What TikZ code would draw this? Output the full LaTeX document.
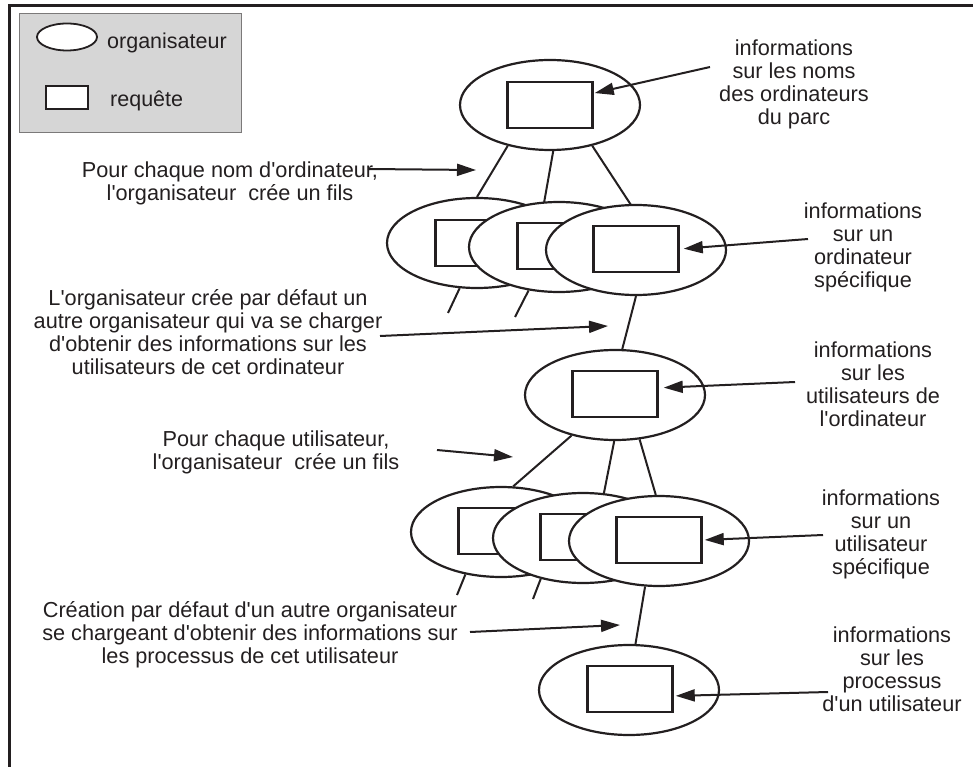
\documentclass[tikz,border=0pt]{standalone}
\usepackage{fontspec}
\setmainfont{Liberation Sans}[Ligatures=TeXOff]
\usetikzlibrary{arrows.meta,shapes.geometric}
\definecolor{ink}{HTML}{231F20}
\definecolor{legendfill}{HTML}{D6D6D6}
\begin{document}
\begin{tikzpicture}[x=1pt,y=-1pt,
  org/.style={ellipse,draw=ink,line width=2.2pt,fill=white,
    minimum width=180pt,minimum height=90pt,inner sep=0pt},
  req/.style={rectangle,draw=ink,line width=2.5pt,fill=white,
    minimum width=85pt,minimum height=46pt,inner sep=0pt},
  link/.style={draw=ink,line width=2pt},
  note/.style={-{Triangle[length=19pt,width=12pt]},draw=ink,line width=2pt},
  lbl/.style={text=ink,align=center,inner sep=0pt,
    font=\fontsize{21.7pt}{23pt}\selectfont},
  key/.style={text=ink,inner sep=0pt,font=\fontsize{21.5pt}{23pt}\selectfont},
]
\useasboundingbox (0,0) rectangle (973,767);

% outer frame
\draw[ink,line width=3pt,line cap=rect] (9,767) -- (9,6) -- (973,6);

% legend
\node[draw=ink!60,line width=0.8pt,fill=legendfill,anchor=north west,
  minimum width=222pt,minimum height=119pt,inner sep=0pt] (legend) at (19,13) {};
\node[org,minimum width=60pt,minimum height=27pt,line width=1.8pt] (lgorg) at (67,37) {};
\node[key,anchor=base west] (lgorgtxt) at (107,49) {organisateur};
\node[req,minimum width=42pt,minimum height=23pt,line width=2pt] (lgreq) at (67,98) {};
\node[key,anchor=base west] (lgreqtxt) at (110,107) {requête};

% root organiser
\node[org] (p0) at (550,105) {};
\node[req] (r0) at (550,105) {};

% one child per computer
\draw[link] (p0.224) -- (477,197) coordinate (c1top);
\draw[link] (p0.274) -- (544,203) coordinate (c2top);
\draw[link] (p0.316) -- (631,205) coordinate (c3top);

\node[org] (c1) at (477,243) {};
\node[req] (rc1) at (478,243) {};
\coordinate (s1) at (448,313);
\draw[link] (c1.249) -- (s1);
\node[org] (c2) at (559,247) {};
\node[req] (rc2) at (560,246) {};
\coordinate (s2) at (515,317);
\draw[link] (c2.235) -- (s2);
\node[org] (c3) at (636,250) {};
\node[req] (rc3) at (636,249) {};

% users organiser
\node[org] (m) at (615,395) {};
\node[req] (rm) at (615,394) {};
\draw[link] (c3.270) -- (m.81);

% one child per user
\node[org] (f1) at (501,532) {};
\node[req] (rf1) at (501,531) {};
\coordinate (t1) at (457,595);
\draw[link] (f1.230) -- (t1);
\node[org] (f2) at (583,538) {};
\node[req] (rf2) at (583,537) {};
\coordinate (t2) at (533,599);
\draw[link] (f2.224) -- (t2);
\node[org] (f3) at (659,541) {};
\node[req] (rf3) at (659,540) {};
\draw[link] (m.223) -- (f1.75);
\draw[link] (m.269) -- (f2.65);
\draw[link] (m.299) -- (f3.94);

% processes organiser
\node[org] (b) at (629,690) {};
\node[req] (rb) at (630,689) {};
\draw[link] (f3.253) -- (b.82);

% notes on the left
\node[lbl] (n1) at (230,183) {Pour chaque nom d'ordinateur,\\l'organisateur~ crée un fils};
\node[lbl] (n2) at (208,332) {L'organisateur crée par défaut un\\autre organisateur qui va se charger\\d'obtenir des informations sur les\\utilisateurs de cet ordinateur};
\node[lbl] (n3) at (276,452) {Pour chaque utilisateur,\\l'organisateur~ crée un fils};
\node[lbl] (n4) at (250,635) {Création par défaut d'un autre organisateur\\se chargeant d'obtenir des informations sur\\les processus de cet utilisateur};

\coordinate (a1s) at (368,169); \coordinate (a1e) at (476,170);
\coordinate (a2s) at (380,336); \coordinate (a2e) at (608,326);
\coordinate (a3s) at (437,450); \coordinate (a3e) at (513,457);
\coordinate (a4s) at (470,632); \coordinate (a4e) at (620,625);
\draw[note] (a1s) -- (a1e);
\draw[note] (a2s) -- (a2e);
\draw[note] (a3s) -- (a3e);
\draw[note] (a4s) -- (a4e);

% notes on the right
\node[lbl] (i0) at (794,84) {informations\\sur les noms\\des ordinateurs\\du parc};
\node[lbl] (i1) at (863,247) {informations\\sur un\\ordinateur\\spécifique};
\node[lbl] (i2) at (873,384) {informations\\sur les\\utilisateurs de\\l'ordinateur};
\node[lbl] (i3) at (881,534) {informations\\sur un\\utilisateur\\spécifique};
\node[lbl] (i4) at (892,669) {informations\\sur les\\processus\\d'un utilisateur};

\coordinate (b0) at (710,67);
\coordinate (b1) at (808,239);
\coordinate (b2) at (795,382);
\coordinate (b3) at (823,535);
\coordinate (b4) at (828,692);
\draw[note,shorten >=1pt] (b0) -- (r0.15);
\draw[note,shorten >=4pt] (b1) -- (rc3.east);
\draw[note,shorten >=5pt] (b2) -- (rm.8);
\draw[note,shorten >=2pt] (b3) -- (rf3.east);
\draw[note,shorten >=2pt] (b4) -- (rb.-9);
\end{tikzpicture}
\end{document}
